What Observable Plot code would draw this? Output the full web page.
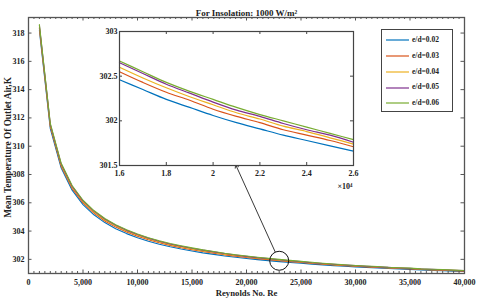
<!DOCTYPE html>
<html><head><meta charset="utf-8">
<script src="https://cdn.jsdelivr.net/npm/d3@7"></script>
<script src="https://cdn.jsdelivr.net/npm/@observablehq/plot@0.6"></script>
<style>
body{margin:0;background:#fff;}
#wrap{position:relative;width:480px;height:305px;overflow:hidden;font-family:"Liberation Serif",serif;font-weight:bold;}
#wrap > svg, #wrap > div{position:absolute;}
.leg{left:381px;top:29px;width:70px;height:81px;border:1px solid #444;background:#fff;}
.leg .row{position:absolute;left:4px;height:10px;font-size:7.5px;line-height:10px;white-space:nowrap;color:#222;}
.leg svg{vertical-align:middle;margin-right:3px;}
</style></head><body><div id="wrap"></div>
<script>
const reynolds = [1000,2000,3000,4000,5000,6000,7000,8000,9000,10000,11000,12000,13000,14000,15000,16000,17000,18000,19000,20000,21000,22000,23000,24000,25000,26000,27000,28000,29000,30000,31000,32000,33000,34000,35000,36000,37000,38000,39000,40000];
const series = ["e/d=0.02","e/d=0.03","e/d=0.04","e/d=0.05","e/d=0.06"];
const colors = ["#0072BD","#D95319","#EDB120","#7E2F8E","#77AC30"];
const t002 = [318.18,311.24,308.45,306.89,305.87,305.15,304.60,304.17,303.82,303.53,303.28,303.07,302.89,302.73,302.59,302.46,302.35,302.24,302.15,302.06,301.98,301.91,301.84,301.78,301.72,301.66,301.61,301.56,301.51,301.47,301.43,301.39,301.35,301.32,301.29,301.25,301.22,301.20,301.17,301.14];
const t003 = [318.33,311.38,308.58,307.02,305.99,305.27,304.71,304.28,303.93,303.63,303.38,303.17,302.99,302.82,302.68,302.55,302.43,302.32,302.23,302.13,302.05,301.98,301.90,301.84,301.78,301.71,301.66,301.61,301.56,301.52,301.47,301.43,301.39,301.36,301.33,301.29,301.25,301.23,301.20,301.17];
const t004 = [318.43,311.47,308.67,307.10,306.07,305.34,304.78,304.35,303.99,303.70,303.44,303.23,303.04,302.88,302.73,302.60,302.48,302.37,302.27,302.18,302.09,302.02,301.94,301.88,301.81,301.74,301.69,301.63,301.58,301.54,301.50,301.45,301.41,301.38,301.35,301.30,301.27,301.25,301.22,301.19];
const t005 = [318.53,311.55,308.74,307.17,306.14,305.41,304.85,304.41,304.05,303.76,303.50,303.28,303.09,302.93,302.78,302.65,302.53,302.41,302.31,302.21,302.12,302.05,301.97,301.90,301.84,301.76,301.71,301.65,301.60,301.56,301.51,301.47,301.43,301.39,301.36,301.32,301.29,301.26,301.23,301.20];
const t006 = [318.60,311.61,308.79,307.22,306.18,305.45,304.89,304.45,304.09,303.79,303.53,303.31,303.12,302.96,302.81,302.67,302.55,302.43,302.33,302.24,302.15,302.07,302.00,301.93,301.86,301.79,301.73,301.67,301.62,301.57,301.53,301.49,301.44,301.41,301.38,301.33,301.30,301.28,301.24,301.21];
const xTicks = [0,5000,10000,15000,20000,25000,30000,35000,40000];
const yTicks = [302,304,306,308,310,312,314,316,318];
const insetXTicks = [16000,18000,20000,22000,24000,26000];
const insetYTicks = [301.5,302,302.5,303];
const titleText = "For Insolation: 1000 W/m²";
const xLabel = "Reynolds No. Re";
const yLabel = "Mean Temperature Of Outlet Air,K";
const calloutRe = 23000, calloutT = 301.9;
const arrowTipRe = 19000, arrowTipT = 308.7;

const values = [t002,t003,t004,t005,t006];
const rows = [];
series.forEach((s,i)=>reynolds.forEach((r,j)=>rows.push({re:r,t:values[i][j],s})));

const W=480,H=305,mL=28,mR=16,mT=17,mB=32;
const pw=W-mL-mR, ph=H-mT-mB;
const xMinor = d3.range(0,40001,500).filter(d=>d%5000!==0);
const font = {fontFamily:"Liberation Serif, serif",fontWeight:"bold",fontSize:"8px",background:"white",color:"#222"};

const main = Plot.plot({
  width:W,height:H,marginLeft:mL,marginRight:mR,marginTop:mT,marginBottom:mB,
  style:font,
  x:{domain:[0,40000]},
  y:{domain:[301,319.1]},
  color:{domain:series,range:colors},
  marks:[
    Plot.line(rows,{x:"re",y:"t",z:"s",stroke:"s",strokeWidth:1.1}),
    Plot.frame({stroke:"#555",strokeWidth:1.3}),
    Plot.tickX(xTicks,{x:d=>d,insetTop:ph-3.5,stroke:"#555"}),
    Plot.tickX(xTicks,{x:d=>d,insetBottom:ph-3.5,stroke:"#555"}),
    Plot.tickX(xMinor,{x:d=>d,insetTop:ph-2,stroke:"#555"}),
    Plot.tickX(xMinor,{x:d=>d,insetBottom:ph-2,stroke:"#555"}),
    Plot.tickY(yTicks,{y:d=>d,insetRight:pw-3.5,stroke:"#555"}),
    Plot.tickY(yTicks,{y:d=>d,insetLeft:pw-3.5,stroke:"#555"}),
    Plot.axisX({ticks:xTicks,tickSize:0,tickPadding:6,tickFormat:d3.format(","),label:null}),
    Plot.axisY({ticks:yTicks,tickSize:0,tickPadding:4,label:null}),
    Plot.dot([{re:calloutRe,t:calloutT}],{x:"re",y:"t",r:9.5,stroke:"#111",strokeWidth:1,fill:"none"}),
    Plot.arrow([{x1:calloutRe,y1:calloutT,x2:arrowTipRe,y2:arrowTipT}],{x1:"x1",y1:"y1",x2:"x2",y2:"y2",insetStart:9.5,stroke:"#222",strokeWidth:0.9,headLength:6}),
    Plot.text([titleText],{frameAnchor:"top",dy:-8,fontSize:9,text:d=>d}),
    Plot.text([xLabel],{frameAnchor:"bottom",dy:22,fontSize:8.7,text:d=>d}),
    Plot.text([yLabel],{frameAnchor:"left",textAnchor:"middle",dx:-20,dy:2,rotate:-90,fontSize:9.3,text:d=>d})
  ]
});
main.style.left="0px";main.style.top="0px";
const wrap=document.getElementById("wrap");
wrap.appendChild(main);

// inset
const iL=30,iT=10,iW=270,iH=178,ipw=234,iph=134;
const insetRows = rows.filter(d=>d.re>=16000&&d.re<=26000);
const inset = Plot.plot({
  width:iW,height:iH,marginLeft:iL,marginTop:iT,marginRight:iW-iL-ipw,marginBottom:iH-iT-iph,
  style:{...font,background:"transparent"},
  x:{domain:[16000,26000]},
  y:{domain:[301.5,303]},
  color:{domain:series,range:colors},
  marks:[
    Plot.frame({fill:"white"}),
    Plot.line(insetRows,{x:"re",y:"t",z:"s",stroke:"s",strokeWidth:1.2,curve:"monotone-x"}),
    Plot.frame({stroke:"#444",strokeWidth:1.2}),
    Plot.tickX(insetXTicks,{x:d=>d,insetTop:iph-3,stroke:"#444"}),
    Plot.tickX(insetXTicks,{x:d=>d,insetBottom:iph-3,stroke:"#444"}),
    Plot.tickY(insetYTicks,{y:d=>d,insetRight:ipw-3,stroke:"#444"}),
    Plot.tickY(insetYTicks,{y:d=>d,insetLeft:ipw-3,stroke:"#444"}),
    Plot.axisX({ticks:insetXTicks,tickSize:0,tickPadding:5,tickFormat:d=>String(d/10000),label:null}),
    Plot.axisY({ticks:insetYTicks,tickSize:0,tickPadding:2,tickFormat:d=>String(d),label:null}),
    Plot.text(["×10⁴"],{frameAnchor:"bottom-right",dy:23,dx:-1,textAnchor:"end",fontSize:8,text:d=>d})
  ]
});
inset.style.left=(119.3-iL)+"px";inset.style.top=(30.7-iT)+"px";
wrap.appendChild(inset);

// legend
const leg=document.createElement("div");leg.className="leg";
series.forEach((s,i)=>{
  const r=document.createElement("div");r.className="row";r.style.top=(5+i*15.8)+"px";
  r.innerHTML=`<svg width="23" height="4"><line x1="0" x2="23" y1="2" y2="2" stroke="${colors[i]}" stroke-width="1.2"/></svg>${s}`;
  leg.appendChild(r);
});
wrap.appendChild(leg);
</script></body></html>
